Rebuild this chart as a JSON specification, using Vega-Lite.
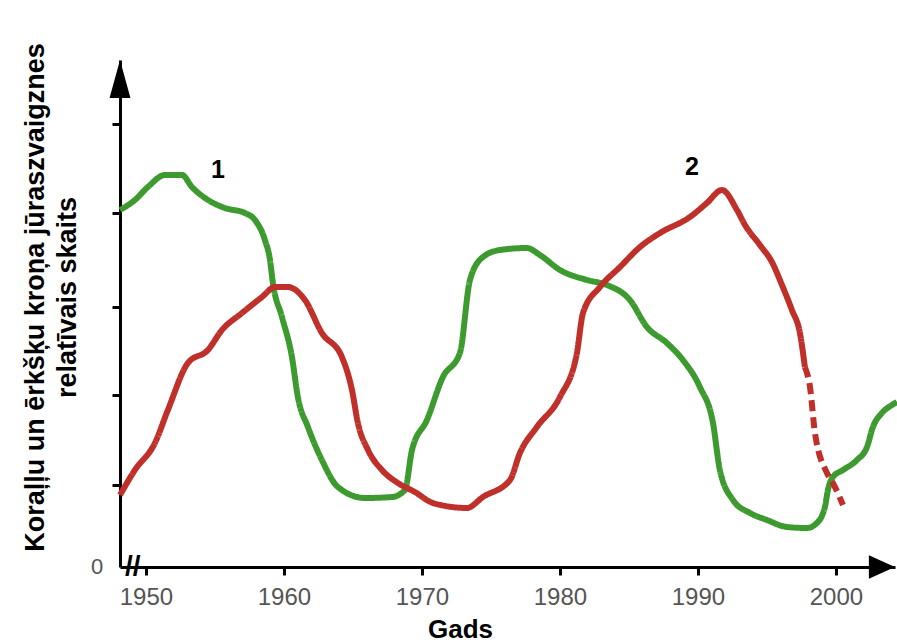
{
  "$schema": "https://vega.github.io/schema/vega-lite/v6.json",
  "width": 775,
  "height": 507,
  "autosize": {"type": "none"},
  "padding": {"left": 120, "top": 60, "right": 2, "bottom": 77},
  "background": "white",
  "config": {"view": {"stroke": null}, "font": "Liberation Sans"},
  "layer": [
    {
      "data": {"values": [
        {"s": "1", "year": 1948.12, "v": 357},
        {"s": "1", "year": 1949.20, "v": 367},
        {"s": "1", "year": 1950.14, "v": 380},
        {"s": "1", "year": 1951.38, "v": 392},
        {"s": "1", "year": 1952.61, "v": 392},
        {"s": "1", "year": 1953.33, "v": 380},
        {"s": "1", "year": 1954.28, "v": 369},
        {"s": "1", "year": 1955.72, "v": 359},
        {"s": "1", "year": 1957.17, "v": 354},
        {"s": "1", "year": 1957.90, "v": 347},
        {"s": "1", "year": 1958.62, "v": 327},
        {"s": "1", "year": 1958.99, "v": 307},
        {"s": "1", "year": 1959.20, "v": 284},
        {"s": "1", "year": 1959.86, "v": 250},
        {"s": "1", "year": 1960.58, "v": 210},
        {"s": "1", "year": 1961.01, "v": 170},
        {"s": "1", "year": 1961.74, "v": 140},
        {"s": "1", "year": 1962.75, "v": 107},
        {"s": "1", "year": 1963.91, "v": 80},
        {"s": "1", "year": 1965.87, "v": 69},
        {"s": "1", "year": 1967.83, "v": 70},
        {"s": "1", "year": 1968.77, "v": 77},
        {"s": "1", "year": 1969.28, "v": 117},
        {"s": "1", "year": 1970.36, "v": 147},
        {"s": "1", "year": 1971.52, "v": 190},
        {"s": "1", "year": 1972.75, "v": 214},
        {"s": "1", "year": 1973.48, "v": 287},
        {"s": "1", "year": 1974.42, "v": 310},
        {"s": "1", "year": 1975.65, "v": 317},
        {"s": "1", "year": 1977.61, "v": 319},
        {"s": "1", "year": 1978.55, "v": 312},
        {"s": "1", "year": 1980.00, "v": 297},
        {"s": "1", "year": 1981.96, "v": 287},
        {"s": "1", "year": 1983.41, "v": 282},
        {"s": "1", "year": 1985.07, "v": 267},
        {"s": "1", "year": 1986.30, "v": 240},
        {"s": "1", "year": 1987.75, "v": 224},
        {"s": "1", "year": 1988.91, "v": 207},
        {"s": "1", "year": 1990.14, "v": 180},
        {"s": "1", "year": 1991.09, "v": 144},
        {"s": "1", "year": 1991.59, "v": 97},
        {"s": "1", "year": 1992.54, "v": 67},
        {"s": "1", "year": 1993.77, "v": 54},
        {"s": "1", "year": 1995.00, "v": 47},
        {"s": "1", "year": 1996.45, "v": 40},
        {"s": "1", "year": 1997.90, "v": 39},
        {"s": "1", "year": 1998.62, "v": 44},
        {"s": "1", "year": 1999.20, "v": 60},
        {"s": "1", "year": 1999.42, "v": 77},
        {"s": "1", "year": 1999.78, "v": 90},
        {"s": "1", "year": 2000.51, "v": 97},
        {"s": "1", "year": 2001.52, "v": 107},
        {"s": "1", "year": 2002.25, "v": 120},
        {"s": "1", "year": 2002.68, "v": 140},
        {"s": "1", "year": 2003.33, "v": 154},
        {"s": "1", "year": 2004.06, "v": 162},
        {"s": "1", "year": 2004.42, "v": 165},
        {"s": "2", "year": 1948.12, "v": 72},
        {"s": "2", "year": 1949.20, "v": 97},
        {"s": "2", "year": 1950.65, "v": 124},
        {"s": "2", "year": 1951.59, "v": 157},
        {"s": "2", "year": 1953.04, "v": 204},
        {"s": "2", "year": 1954.49, "v": 217},
        {"s": "2", "year": 1955.51, "v": 237},
        {"s": "2", "year": 1956.96, "v": 254},
        {"s": "2", "year": 1958.41, "v": 270},
        {"s": "2", "year": 1959.35, "v": 280},
        {"s": "2", "year": 1960.29, "v": 280},
        {"s": "2", "year": 1961.52, "v": 267},
        {"s": "2", "year": 1962.75, "v": 234},
        {"s": "2", "year": 1964.20, "v": 210},
        {"s": "2", "year": 1964.93, "v": 177},
        {"s": "2", "year": 1965.36, "v": 144},
        {"s": "2", "year": 1966.09, "v": 117},
        {"s": "2", "year": 1967.10, "v": 97},
        {"s": "2", "year": 1968.26, "v": 84},
        {"s": "2", "year": 1969.49, "v": 75},
        {"s": "2", "year": 1970.80, "v": 64},
        {"s": "2", "year": 1973.26, "v": 59},
        {"s": "2", "year": 1974.42, "v": 70},
        {"s": "2", "year": 1976.38, "v": 87},
        {"s": "2", "year": 1977.10, "v": 114},
        {"s": "2", "year": 1978.33, "v": 140},
        {"s": "2", "year": 1980.00, "v": 170},
        {"s": "2", "year": 1981.23, "v": 214},
        {"s": "2", "year": 1981.67, "v": 254},
        {"s": "2", "year": 1982.90, "v": 280},
        {"s": "2", "year": 1984.35, "v": 300},
        {"s": "2", "year": 1985.80, "v": 320},
        {"s": "2", "year": 1987.25, "v": 334},
        {"s": "2", "year": 1989.42, "v": 350},
        {"s": "2", "year": 1990.65, "v": 364},
        {"s": "2", "year": 1991.74, "v": 377},
        {"s": "2", "year": 1992.83, "v": 357},
        {"s": "2", "year": 1993.41, "v": 342},
        {"s": "2", "year": 1994.49, "v": 322},
        {"s": "2", "year": 1995.36, "v": 305},
        {"s": "2", "year": 1996.09, "v": 282},
        {"s": "2", "year": 1996.81, "v": 257},
        {"s": "2", "year": 1997.39, "v": 234},
        {"s": "2", "year": 1997.75, "v": 200},
        {"s": "2d", "year": 1997.75, "v": 200},
        {"s": "2d", "year": 1998.12, "v": 180},
        {"s": "2d", "year": 1998.48, "v": 134},
        {"s": "2d", "year": 1999.35, "v": 94},
        {"s": "2d", "year": 1999.78, "v": 84},
        {"s": "2d", "year": 2000.51, "v": 62}
      ]},
      "mark": {"type": "line", "strokeWidth": 6, "interpolate": "monotone", "strokeCap": "butt", "clip": false},
      "encoding": {
        "x": {
          "field": "year", "type": "quantitative",
          "scale": {"domain": [1948.12, 2004.28], "nice": false, "zero": false},
          "axis": {
            "values": [1950, 1960, 1970, 1980, 1990, 2000], "format": "d", "grid": false,
            "domainColor": "black", "domainWidth": 3,
            "tickColor": "black", "tickWidth": 3, "tickSize": 8,
            "labelFont": "Liberation Sans", "labelFontSize": 24, "labelColor": "#555555", "labelPadding": 10,
            "title": "Gads", "titleFont": "Liberation Sans", "titleFontSize": 26, "titleFontWeight": "bold", "titleColor": "black",
            "titleX": 340, "titleY": 62, "titleBaseline": "middle"
          }
        },
        "y": {
          "field": "v", "type": "quantitative",
          "scale": {"domain": [0, 507], "nice": false},
          "axis": {
            "values": [82, 172, 260, 354, 443], "labels": false, "grid": false,
            "domainColor": "black", "domainWidth": 3,
            "tickColor": "black", "tickWidth": 3, "tickSize": 8,
            "title": ["Koraļļu un ērkšķu kroņa jūraszvaigznes", "relatīvais skaits"],
            "titleFont": "Liberation Sans", "titleFontSize": 27, "titleFontWeight": "bold", "titleColor": "black",
            "titleLineHeight": 32, "titleBaseline": "bottom", "titleX": -71, "titleY": 237
          }
        },
        "color": {"field": "s", "type": "nominal", "legend": null,
          "scale": {"domain": ["1", "2", "2d"], "range": ["#3d9a2f", "#c0302a", "#c0302a"]}},
        "strokeDash": {"field": "s", "type": "nominal", "legend": null,
          "scale": {"domain": ["1", "2", "2d"], "range": [[1, 0], [1, 0], [11, 6]]}}
      }
    },
    {
      "data": {"values": [{"year": 1948.12, "v": 488}]},
      "mark": {"type": "point", "shape": "M0,-1L0.55,1L-0.55,1Z", "size": 1444, "filled": true, "fill": "black", "opacity": 1, "strokeWidth": 0, "clip": false},
      "encoding": {"x": {"field": "year", "type": "quantitative"}, "y": {"field": "v", "type": "quantitative"}}
    },
    {
      "data": {"values": [{"year": 2003.33, "v": 0}]},
      "mark": {"type": "point", "shape": "M1,0L-1,-0.9L-1,0.9Z", "size": 676, "filled": true, "fill": "black", "opacity": 1, "strokeWidth": 0, "clip": false},
      "encoding": {"x": {"field": "year", "type": "quantitative"}, "y": {"field": "v", "type": "quantitative"}}
    },
    {
      "data": {"values": [
        {"year": 1955.22, "v": 397, "label": "1"},
        {"year": 1989.57, "v": 400, "label": "2"}
      ]},
      "mark": {"type": "text", "font": "Liberation Sans", "fontSize": 25, "fontWeight": "bold", "color": "black", "baseline": "middle", "align": "center"},
      "encoding": {"x": {"field": "year", "type": "quantitative"}, "y": {"field": "v", "type": "quantitative"}, "text": {"field": "label"}}
    },
    {
      "data": {"values": [{"year": 1948.12, "v": 0, "label": "0"}]},
      "mark": {"type": "text", "font": "Liberation Sans", "fontSize": 22, "color": "#555555", "baseline": "middle", "align": "center", "dx": -23},
      "encoding": {"x": {"field": "year", "type": "quantitative"}, "y": {"field": "v", "type": "quantitative"}, "text": {"field": "label"}}
    },
    {
      "data": {"values": [{"year": 1949.05, "v": 0, "label": "//"}]},
      "mark": {"type": "text", "font": "Liberation Sans", "fontSize": 28, "fontWeight": "bold", "color": "black", "baseline": "middle", "align": "center"},
      "encoding": {"x": {"field": "year", "type": "quantitative"}, "y": {"field": "v", "type": "quantitative"}, "text": {"field": "label"}}
    }
  ]
}
